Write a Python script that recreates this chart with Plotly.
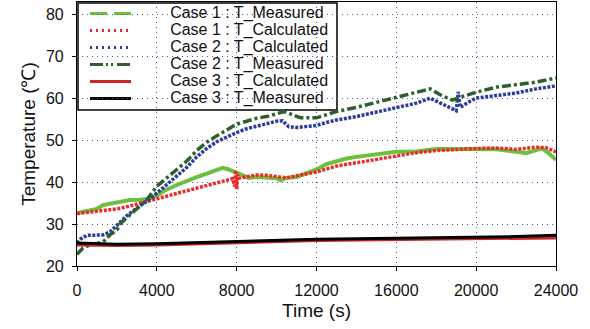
import plotly.graph_objects as go

# Case 1 : T_Measured
t_c1m = [0, 500, 1000, 1300, 2000, 2650, 3150, 3650, 4000, 4400, 5000, 5500, 6000, 6500, 7000, 7300, 7600, 7900, 8200, 8600, 9000, 9500, 10000, 10200, 10500, 11000, 11500, 12000, 12500, 13000, 13500, 14000, 15000, 16000, 17000, 18000, 19000, 20000, 21000, 22000, 22500, 23000, 23300, 23600, 24000]
v_c1m = [32.6, 33.2, 33.6, 34.5, 35.2, 35.7, 35.8, 36.0, 36.8, 38.0, 39.3, 40.3, 41.2, 42.0, 42.8, 43.4, 43.0, 42.4, 41.9, 41.0, 41.2, 41.0, 40.9, 40.4, 41.0, 41.2, 42.0, 43.0, 44.3, 45.0, 45.6, 46.0, 46.6, 47.2, 47.3, 47.9, 47.9, 47.9, 47.8, 47.2, 46.9, 47.6, 48.0, 47.0, 45.3]

# Case 1 : T_Calculated
t_c1c = [0, 700, 1300, 2000, 2650, 3150, 4000, 5000, 6000, 7000, 7500, 7800, 7900, 7950, 8000, 8050, 8100, 8500, 9000, 9500, 10000, 10500, 11000, 12000, 13000, 14000, 15000, 16000, 17000, 18000, 19000, 20000, 21000, 22000, 23000, 23500, 24000]
v_c1c = [32.5, 32.9, 33.2, 33.6, 34.3, 35.0, 36.0, 37.3, 38.5, 39.8, 40.4, 40.8, 39.0, 42.8, 38.3, 41.8, 40.9, 41.2, 41.7, 41.6, 41.2, 41.0, 41.5, 42.4, 43.8, 44.6, 45.5, 46.3, 47.0, 47.5, 47.8, 48.0, 48.1, 47.8, 48.3, 48.2, 47.2]

# Case 2 : T_Calculated
t_c2c = [0, 200, 500, 1300, 1650, 2150, 2500, 3150, 3600, 4160, 4500, 5000, 5500, 6000, 6500, 7000, 7500, 8000, 8500, 9000, 9500, 10000, 10300, 10600, 11000, 11500, 12000, 12500, 13000, 14000, 15000, 16000, 17000, 17700, 18200, 18800, 19000, 19100, 19200, 19600, 20000, 21000, 22000, 23000, 24000]
v_c2c = [25.5, 26.5, 27.3, 27.4, 28.1, 30.5, 32.0, 34.3, 35.8, 38.0, 39.4, 41.5, 43.5, 46.0, 48.0, 49.6, 50.8, 51.8, 52.7, 53.3, 53.9, 54.5, 54.6, 53.2, 53.0, 53.3, 53.5, 54.2, 54.8, 55.6, 56.6, 57.8, 58.8, 60.0, 58.8, 57.5, 57.0, 61.5, 57.8, 59.0, 60.0, 60.6, 61.2, 62.2, 62.9]

# Case 2 : T_Measured
t_c2m = [0, 300, 650, 1300, 1650, 2000, 2150, 2500, 3000, 3500, 4000, 4500, 5000, 5500, 6000, 6500, 7000, 7500, 8000, 8500, 9000, 9500, 10000, 10400, 10800, 11200, 12000, 12500, 13000, 14000, 15000, 16000, 17000, 17700, 18200, 18800, 19200, 20000, 21000, 22000, 23000, 24000]
v_c2m = [22.8, 24.3, 25.0, 25.7, 27.4, 28.6, 30.0, 31.5, 33.5, 35.8, 39.0, 41.0, 43.0, 45.0, 47.5, 49.5, 51.0, 52.5, 53.8, 54.5, 55.2, 55.6, 56.2, 56.8, 56.0, 55.3, 55.3, 56.0, 56.8, 57.8, 59.0, 60.0, 61.2, 62.2, 60.8, 59.5, 60.2, 61.4, 62.6, 63.2, 63.8, 64.8]

# Case 3 : T_Calculated
t_c3c = [0, 2000, 4000, 6000, 8000, 10000, 12000, 14000, 16000, 18000, 20000, 22000, 24000]
v_c3c = [25.0, 24.9, 25.0, 25.3, 25.6, 25.9, 26.1, 26.2, 26.3, 26.5, 26.5, 26.6, 26.7]

# Case 3 : T_Measured
t_c3m = [0, 2000, 4000, 6000, 8000, 10000, 12000, 14000, 16000, 18000, 20000, 22000, 24000]
v_c3m = [25.5, 25.2, 25.3, 25.6, 25.9, 26.2, 26.4, 26.5, 26.6, 26.8, 26.9, 27.0, 27.3]

x_ticks = [0, 4000, 8000, 12000, 16000, 20000, 24000]
y_ticks = [20, 30, 40, 50, 60, 70, 80]

# (name, x, y, colour, plotted line dash, legend sample dash, width)
series = [
    ("Case 1 : T_Measured", t_c1m, v_c1m, "#6cc03c", "solid", "17px,7px", 4),
    ("Case 1 : T_Calculated", t_c1c, v_c1c, "#f02828", "3px,1.5px", "2px,4px", 3.5),
    ("Case 2 : T_Calculated", t_c2c, v_c2c, "#2c3c9e", "3px,1.5px", "2px,4px", 3.5),
    ("Case 2 : T_Measured", t_c2m, v_c2m, "#2e602e", "9px,3px,3px,3px", "13px,3px,2px,3px,2px,4px", 3.5),
    ("Case 3 : T_Calculated", t_c3c, v_c3c, "#cc2424", "solid", "solid", 3),
    ("Case 3 : T_Measured", t_c3m, v_c3m, "#000000", "solid", "solid", 3),
]

fig = go.Figure()
for name, t, v, col, dash, _ld, w in series:
    fig.add_trace(go.Scatter(x=t, y=v, mode="lines", name=name,
                             line=dict(color=col, width=w, dash=dash), showlegend=False))

# plot area geometry (pixels) used to place the boxed legend
L, R, T, B = 77, 556, 2, 266
def px(xp):
    return (xp - L) / (R - L)
def py(yp):
    return (B - yp) / (B - T)

# Arial / Liberation Sans advance widths (per 1000 em) to left-align centred labels
ADV = {"C": 722, "a": 556, "s": 500, "e": 556, " ": 278, "1": 556, "2": 556, "3": 556,
       ":": 278, "T": 611, "_": 556, "M": 833, "u": 556, "r": 333, "d": 556,
       "l": 222, "c": 500, "t": 278}
LEG_FONT = 16
def text_w(s):
    return sum(ADV.get(ch, 556) for ch in s) / 1000.0 * LEG_FONT

shapes = [dict(type="rect", xref="paper", yref="paper", layer="between",
               x0=px(78), x1=px(337), y0=py(110), y1=py(3),
               line=dict(color="black", width=1.5), fillcolor="white")]
row0, step = 13.5, 17.0
leg_x, leg_y = [], []
for i, (name, t, v, col, dash, ldash, w) in enumerate(series):
    yy = py(row0 + i * step)
    leg_y.append(yy)
    leg_x.append(px(170 + text_w(name) / 2.0))
    shapes.append(dict(type="line", xref="paper", yref="paper", layer="between",
                       x0=px(90), x1=px(131), y0=yy, y1=yy,
                       line=dict(color=col, width=3, dash=ldash)))

# legend labels as a text layer on a hidden overlay axis spanning the plot area
fig.add_trace(go.Scatter(x=leg_x, y=leg_y, mode="text",
                         text=[s[0] for s in series], textposition="middle center",
                         textfont=dict(size=LEG_FONT, color="#111"), cliponaxis=False,
                         xaxis="x2", yaxis="y2", showlegend=False, hoverinfo="skip"))

font_family = "Liberation Sans, Arial, sans-serif"
fig.update_layout(
    width=590, height=329,
    margin=dict(l=L, r=590 - R, t=T, b=329 - B),
    paper_bgcolor="white", plot_bgcolor="white",
    font=dict(family=font_family, size=16, color="#111"),
    showlegend=False,
    shapes=shapes,
    xaxis=dict(range=[0, 24000], tickvals=x_ticks, ticktext=[str(v) for v in x_ticks],
               showgrid=True, gridcolor="#4a5ab0", griddash="1px,4px", gridwidth=1,
               showline=True, linecolor="black", linewidth=1.2, mirror=True,
               ticks="outside", ticklen=4, tickcolor="black", zeroline=False,
               automargin=False, tickfont=dict(size=16), ticklabelstandoff=6,
               title=dict(text="Time (s)", font=dict(size=19), standoff=5)),
    yaxis=dict(range=[20, 82.9], tickvals=y_ticks, ticktext=[str(v) for v in y_ticks],
               showgrid=True, gridcolor="#4a5ab0", griddash="1px,4px", gridwidth=1,
               showline=True, linecolor="black", linewidth=1.2, mirror=True,
               ticks="outside", ticklen=4, tickcolor="black", zeroline=False,
               automargin=False, tickfont=dict(size=16), ticklabelstandoff=5,
               title=dict(text="Temperature (℃)", font=dict(size=19), standoff=5)),
    xaxis2=dict(overlaying="x", range=[0, 1], visible=False, fixedrange=True),
    yaxis2=dict(overlaying="y", range=[0, 1], visible=False, fixedrange=True),
)

fig.write_html("out.html", config={"displayModeBar": False},
               post_script="document.body.style.margin='0';")
